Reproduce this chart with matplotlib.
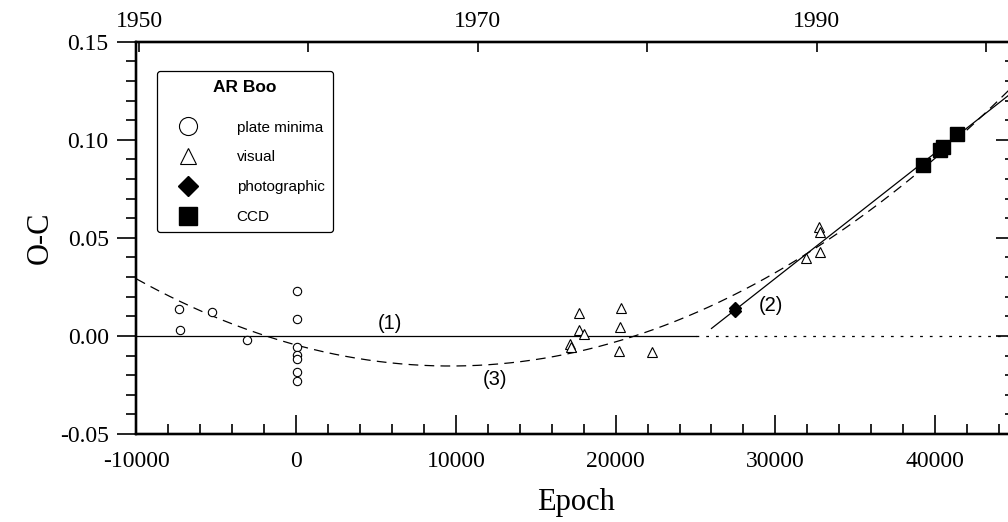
"""O-C diagram of AR Boo with linear and quadratic ephemerides."""
import matplotlib.pyplot as plt
from matplotlib.lines import Line2D
import numpy as np

plt.rcParams['lines.scale_dashes'] = False
plt.rcParams['axes.unicode_minus'] = False
SERIF = 'Liberation Serif'
SANS = 'Liberation Sans'

# ── Data ──────────────────────────────────────────────────────────
plate_E  = [-7320, -7260, -5270, -3080, 50, 80, 50, 60, 50, 40, 70]
plate_oc = [0.0136, 0.0028, 0.0122, -0.0022, 0.0230, 0.0087,
            -0.0056, -0.0098, -0.0120, -0.0184, -0.0231]

visual_E  = [17730, 17730, 18020, 17150, 17190, 20320, 20300, 20190,
             22300, 32760, 32800, 32800, 31920]
visual_oc = [0.0117, 0.0029, 0.0012, -0.0039, -0.0056, 0.0140, 0.0043,
             -0.0077, -0.0082, 0.0556, 0.0531, 0.0429, 0.0398]

photo_E  = [27470, 27490]
photo_oc = [0.0128, 0.0144]

ccd_E  = [39230, 40330, 40480, 41360]
ccd_oc = [0.0871, 0.0950, 0.0962, 0.1028]

# (1) zero line, (2) new linear ephemeris, (3) quadratic ephemeris
LINE1_END   = 25000
LINE2_RANGE = [26000, 45000]
LINE2_COEF  = [-0.16234, 6.39e-6]
QUAD_COEF   = [-0.004632, -2.2195e-6, 1.15e-10]

# top axis: calendar years
YEARS       = [1950, 1960, 1970, 1980, 1990, 2000]
YEAR_LABELS = ['1950', '', '1970', '', '1990', '']
E_1950      = -9843
E_PER_YEAR  = 1060.7

XLIM = (-10000, 45000)
YLIM = (-0.05, 0.15)

# ── Figure ────────────────────────────────────────────────────────
fig = plt.figure(figsize=(10.08, 5.22), dpi=100)
ax = fig.add_axes([0.1354, 0.1686, 0.8715, 0.7515])

ax.plot([XLIM[0], LINE1_END], [0, 0], color='black', lw=0.9)
ax.plot([LINE1_END, XLIM[1]], [0, 0], color='black', lw=0.9,
        ls=(0, (2, 5)))

e2 = np.array(LINE2_RANGE)
ax.plot(e2, LINE2_COEF[0] + LINE2_COEF[1] * e2, color='black', lw=0.9)

eq = np.linspace(XLIM[0], XLIM[1], 400)
ax.plot(eq, QUAD_COEF[0] + QUAD_COEF[1] * eq + QUAD_COEF[2] * eq ** 2,
        color='black', lw=0.9, ls=(0, (7, 4.5)))

ax.plot(plate_E, plate_oc, 'o', ms=6, mfc='white', mec='black', mew=0.8)
ax.plot(visual_E, visual_oc, '^', ms=7, mfc='white', mec='black', mew=0.8)
ax.plot(photo_E, photo_oc, 'D', ms=6.5, mfc='black', mec='black')
ax.plot(ccd_E, ccd_oc, 's', ms=10, mfc='black', mec='black')

ax.text(5870, 0.0065, '(1)', fontsize=14.5, family=SANS, ha='center', va='center')
ax.text(29730, 0.0157, '(2)', fontsize=14.5, family=SANS, ha='center', va='center')
ax.text(12420, -0.0224, '(3)', fontsize=14.5, family=SANS, ha='center', va='center')

ax.set_xlim(*XLIM)
ax.set_ylim(*YLIM)
ax.set_xticks(np.arange(-10000, 45001, 10000))
ax.set_xticks(np.arange(-10000, 45001, 2000), minor=True)
ax.set_yticks(np.arange(-0.05, 0.151, 0.05))
ax.set_yticks(np.arange(-0.05, 0.151, 0.01), minor=True)
ax.set_yticklabels([f'{v:.2f}' for v in np.arange(-0.05, 0.151, 0.05)])

ax.tick_params(axis='x', which='major', direction='in', length=14, width=1.2,
               labelsize=17, pad=12, top=False)
ax.tick_params(axis='x', which='minor', direction='in', length=7, width=1.2,
               top=False)
ax.tick_params(axis='y', which='major', direction='out', length=14, width=1.2,
               labelsize=17, pad=6, right=False)
ax.tick_params(axis='y', which='minor', direction='out', length=7, width=1.2,
               right=False)
for lab in ax.get_xticklabels() + ax.get_yticklabels():
    lab.set_family(SERIF)
for sp in ax.spines.values():
    sp.set_linewidth(1.6)

# right-hand inward ticks
axr = ax.twinx()
axr.set_ylim(*YLIM)
axr.set_yticks(np.arange(-0.05, 0.151, 0.05))
axr.set_yticks(np.arange(-0.05, 0.151, 0.01), minor=True)
axr.tick_params(axis='y', which='major', direction='in', length=14, width=1.2,
                labelright=False)
axr.tick_params(axis='y', which='minor', direction='in', length=7, width=1.2)

# top axis in years
axt = ax.twiny()
axt.set_xlim(*XLIM)
axt.set_xticks([E_1950 + (y - 1950) * E_PER_YEAR for y in YEARS])
axt.set_xticklabels(YEAR_LABELS, family=SERIF)
axt.tick_params(axis='x', direction='in', length=7, width=1.2,
                labelsize=17, pad=7)
for a in (axr, axt):
    for sp in a.spines.values():
        sp.set_linewidth(1.6)

ax.set_xlabel('Epoch', fontsize=22, family=SERIF, labelpad=12)
ax.set_ylabel('O-C', fontsize=22, family=SERIF, labelpad=4)

# ── Legend ────────────────────────────────────────────────────────
handles = [
    Line2D([], [], ls='none', marker='o', ms=13, mfc='white', mec='black', mew=0.8),
    Line2D([], [], ls='none', marker='^', ms=11, mfc='white', mec='black', mew=0.8),
    Line2D([], [], ls='none', marker='D', ms=10, mfc='black', mec='black'),
    Line2D([], [], ls='none', marker='s', ms=13, mfc='black', mec='black'),
]
labels = ['plate minima', 'visual', 'photographic', 'CCD']
leg = axt.legend(handles, labels, loc='upper left', bbox_to_anchor=(0.0235, 0.925),
                 borderaxespad=0, title='AR Boo\n', fancybox=True, framealpha=1,
                 edgecolor='black', prop={'family': SANS, 'size': 11},
                 title_fontproperties={'family': SANS, 'size': 12.5, 'weight': 'bold'},
                 labelspacing=1.03, handletextpad=1.75, borderpad=0.55,
                 handlelength=2.9)
leg.get_title().set_linespacing(0.62)
leg.get_frame().set_linewidth(0.9)

fig.savefig('out.png', dpi=100)
